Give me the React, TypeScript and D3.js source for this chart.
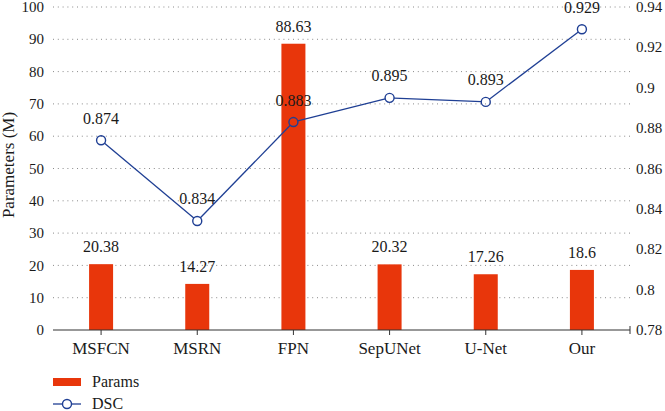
import React, { useEffect, useRef } from 'react';
import * as d3 from 'd3';

const categories = ['MSFCN', 'MSRN', 'FPN', 'SepUNet', 'U-Net', 'Our'];
const params = [20.38, 14.27, 88.63, 20.32, 17.26, 18.6];
const dsc = [0.874, 0.834, 0.883, 0.895, 0.893, 0.929];
const leftTicks = [0, 10, 20, 30, 40, 50, 60, 70, 80, 90, 100];
const rightTicks = [0.78, 0.8, 0.82, 0.84, 0.86, 0.88, 0.9, 0.92, 0.94];

const W = 665;
const H = 411;
const FONT = 'Liberation Serif';
const BAR = '#e8360b';
const LINE = '#1f3f94';

const App = () => {
    const svgRef = useRef<SVGSVGElement | null>(null);

    useEffect(() => {
        if (!svgRef.current) return;
        const svg = d3.select(svgRef.current);
        svg.selectAll('*').remove();

        const margin = { top: 7, right: 35, bottom: 81, left: 53 };
        const x = d3.scaleBand<string>()
            .domain(categories)
            .range([margin.left, W - margin.right]);
        const yL = d3.scaleLinear().domain([0, 100]).range([H - margin.bottom, margin.top]);
        const yR = d3.scaleLinear().domain([0.78, 0.94]).range([H - margin.bottom, margin.top]);
        const cx = (c: string) => (x(c) as number) + x.bandwidth() / 2;

        const txt = (sel: any, size = 15) => sel
            .attr('font-family', FONT)
            .attr('font-size', size)
            .attr('fill', '#1a1a1a');

        // grid
        svg.append('g')
            .selectAll('line')
            .data(leftTicks.slice(1))
            .join('line')
            .attr('x1', margin.left)
            .attr('x2', W - margin.right)
            .attr('y1', d => yL(d))
            .attr('y2', d => yL(d))
            .attr('stroke', '#8a8a8a')
            .attr('stroke-width', 1)
            .attr('stroke-dasharray', '1,3.8');

        // left axis labels
        svg.append('g')
            .selectAll('text')
            .data(leftTicks)
            .join('text')
            .attr('x', margin.left - 9)
            .attr('y', d => yL(d))
            .attr('dy', '0.34em')
            .attr('text-anchor', 'end')
            .call(txt)
            .text(d => d);

        // right axis labels
        svg.append('g')
            .selectAll('text')
            .data(rightTicks)
            .join('text')
            .attr('x', W - margin.right + 6)
            .attr('y', d => yR(d))
            .attr('dy', '0.34em')
            .attr('text-anchor', 'start')
            .call(txt)
            .text(d => d);

        // y label
        svg.append('text')
            .attr('transform', `translate(14,165) rotate(-90)`)
            .attr('text-anchor', 'middle')
            .call(txt, 17)
            .text('Parameters (M)');

        // bars
        const barW = 24;
        svg.append('g')
            .selectAll('rect')
            .data(params)
            .join('rect')
            .attr('x', (d, i) => cx(categories[i]) - barW / 2)
            .attr('y', d => yL(d))
            .attr('width', barW)
            .attr('height', d => yL(0) - yL(d))
            .attr('fill', BAR);

        svg.append('g')
            .selectAll('text')
            .data(params)
            .join('text')
            .attr('x', (d, i) => cx(categories[i]))
            .attr('y', d => yL(d) - 12)
            .attr('text-anchor', 'middle')
            .call(txt, 16)
            .text(d => d);

        // bottom axis
        const base = yL(0);
        svg.append('line')
            .attr('x1', margin.left)
            .attr('x2', W - margin.right)
            .attr('y1', base)
            .attr('y2', base)
            .attr('stroke', '#333')
            .attr('stroke-width', 1.2);
        svg.append('g')
            .selectAll('line')
            .data(categories)
            .join('line')
            .attr('x1', d => cx(d))
            .attr('x2', d => cx(d))
            .attr('y1', base)
            .attr('y2', base + 5)
            .attr('stroke', '#333');
        svg.append('line')
            .attr('x1', W - margin.right)
            .attr('x2', W - margin.right)
            .attr('y1', base - 4)
            .attr('y2', base + 4)
            .attr('stroke', '#333');
        svg.append('g')
            .selectAll('text')
            .data(categories)
            .join('text')
            .attr('x', d => cx(d))
            .attr('y', base + 18)
            .attr('dy', '0.34em')
            .attr('text-anchor', 'middle')
            .call(txt, 17)
            .text(d => d);

        // DSC line, segments stop at the hollow markers
        const r = 4.5;
        const pts = dsc.map((d, i) => [cx(categories[i]), yR(d)]);
        const segs = d3.pairs(pts).map(([a, b]) => {
            const dx = b[0] - a[0];
            const dy = b[1] - a[1];
            const len = Math.hypot(dx, dy);
            const ux = dx / len, uy = dy / len;
            return [[a[0] + ux * r, a[1] + uy * r], [b[0] - ux * r, b[1] - uy * r]];
        });
        svg.append('g')
            .selectAll('path')
            .data(segs)
            .join('path')
            .attr('fill', 'none')
            .attr('stroke', LINE)
            .attr('stroke-width', 1.3)
            .attr('d', d => d3.line()(d as [number, number][]));
        svg.append('g')
            .selectAll('circle')
            .data(dsc)
            .join('circle')
            .attr('cx', (d, i) => cx(categories[i]))
            .attr('cy', d => yR(d))
            .attr('r', r)
            .attr('fill', 'none')
            .attr('stroke', LINE)
            .attr('stroke-width', 1.4);
        svg.append('g')
            .selectAll('text')
            .data(dsc)
            .join('text')
            .attr('x', (d, i) => cx(categories[i]))
            .attr('y', d => yR(d) - 16.5)
            .attr('text-anchor', 'middle')
            .call(txt, 16)
            .text(d => d);

        // legend
        const lg = svg.append('g').attr('transform', `translate(${margin.left},382)`);
        lg.append('rect')
            .attr('x', 0).attr('y', -4).attr('width', 28).attr('height', 8)
            .attr('fill', BAR);
        lg.append('text')
            .attr('x', 39).attr('y', 0).attr('dy', '0.34em')
            .call(txt, 16)
            .text('Params');
        lg.append('line')
            .attr('x1', 0).attr('x2', 14 - r).attr('y1', 22).attr('y2', 22)
            .attr('stroke', LINE).attr('stroke-width', 1.3);
        lg.append('line')
            .attr('x1', 14 + r).attr('x2', 28).attr('y1', 22).attr('y2', 22)
            .attr('stroke', LINE).attr('stroke-width', 1.3);
        lg.append('circle')
            .attr('cx', 14).attr('cy', 22).attr('r', r)
            .attr('fill', 'none').attr('stroke', LINE).attr('stroke-width', 1.4);
        lg.append('text')
            .attr('x', 39).attr('y', 22).attr('dy', '0.34em')
            .call(txt, 16)
            .text('DSC');
    }, []);

    return (
        <svg
            ref={svgRef}
            width={W}
            height={H}
            style={{ position: 'absolute', left: 0, top: 0, background: 'white' }}
        />
    );
};

export default App;
